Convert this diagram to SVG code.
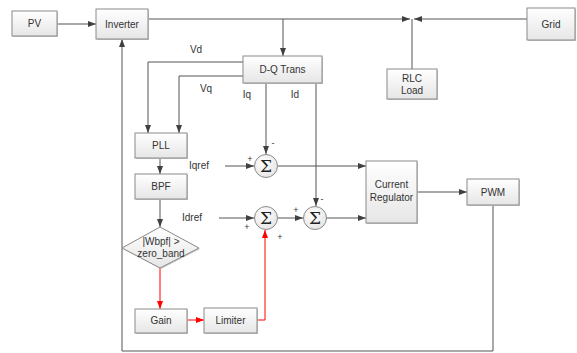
<svg xmlns="http://www.w3.org/2000/svg" width="577" height="353" viewBox="0 0 577 353">
<defs>
<linearGradient id="g" x1="0" y1="0" x2="0" y2="1"><stop offset="0" stop-color="#ffffff"/><stop offset="1" stop-color="#e6e6e6"/></linearGradient>
<radialGradient id="gc" cx="0.4" cy="0.35" r="0.7"><stop offset="0" stop-color="#ffffff"/><stop offset="1" stop-color="#e4e4e4"/></radialGradient>
<marker id="a" markerWidth="8" markerHeight="6" refX="8" refY="3" orient="auto" markerUnits="userSpaceOnUse"><path d="M0,0 L8,3 L0,6 z" fill="#404040"/></marker>
<marker id="r" markerWidth="8" markerHeight="6" refX="8" refY="3" orient="auto" markerUnits="userSpaceOnUse"><path d="M0,0 L8,3 L0,6 z" fill="#ff0000"/></marker>
</defs>
<style>
.box{fill:url(#g);stroke:#8a8a8a;stroke-width:1}
.sh{fill:#c8c8c8}
.t{font-family:"Liberation Sans",Arial,sans-serif;font-size:10px;fill:#333;text-anchor:middle}
.l{font-family:"Liberation Sans",Arial,sans-serif;font-size:10px;fill:#333;text-anchor:middle}
.s{font-family:"Liberation Sans",Arial,sans-serif;font-size:9px;fill:#333;text-anchor:middle}
.sig{font-family:"DejaVu Serif","Liberation Serif",serif;font-size:17px;fill:#222;text-anchor:middle}
.c{fill:none;stroke:#555;stroke-width:1}
.rd{fill:none;stroke:#ff0000;stroke-width:1}
.circ{fill:url(#gc);stroke:#8a8a8a;stroke-width:1}
</style>
<rect width="577" height="353" fill="#ffffff"/>
<g id="connectors">
<path class="c" d="M57,24 H96" marker-end="url(#a)"/>
<path class="c" d="M148,19 H410" marker-end="url(#a)"/>
<path class="c" d="M527,19 H414" marker-end="url(#a)"/>
<path class="c" d="M412,69 V19"/>
<path class="c" d="M283,19 V56" marker-end="url(#a)"/>
<path class="c" d="M243,62 H148 V133" marker-end="url(#a)"/>
<path class="c" d="M243,76 H179 V133" marker-end="url(#a)"/>
<path class="c" d="M266,83 V154" marker-end="url(#a)"/>
<path class="c" d="M316,83 V206" marker-end="url(#a)"/>
<path class="c" d="M160,158 V174" marker-end="url(#a)"/>
<path class="c" d="M160,199 V227" marker-end="url(#a)"/>
<path class="c" d="M225,166 H254" marker-end="url(#a)"/>
<path class="c" d="M278,166 H366" marker-end="url(#a)"/>
<path class="c" d="M219,218 H254" marker-end="url(#a)"/>
<path class="c" d="M278,218 H303" marker-end="url(#a)"/>
<path class="c" d="M327,218 H366" marker-end="url(#a)"/>
<path class="c" d="M417,192 H467" marker-end="url(#a)"/>
<path class="c" d="M493,205 V351 H122 V39" marker-end="url(#a)"/>
<path class="rd" d="M160,268 V309" marker-end="url(#r)"/>
<path class="rd" d="M187,320 H204" marker-end="url(#r)"/>
<path class="rd" d="M257,320 H265 V230" marker-end="url(#r)"/>
</g>
<g id="labels">
<text class="l" x="196" y="53">Vd</text>
<text class="l" x="206" y="92">Vq</text>
<text class="l" x="247" y="98">Iq</text>
<text class="l" x="295" y="98">Id</text>
<text class="l" x="199" y="169">Iqref</text>
<text class="l" x="192" y="221">Idref</text>
<text class="s" x="250" y="162">+</text>
<text class="s" x="273" y="146">-</text>
<text class="s" x="247" y="230">+</text>
<text class="s" x="280" y="240">+</text>
<text class="s" x="296" y="213">+</text>
<text class="s" x="322" y="202">-</text>
</g>
<g id="pv"><rect class="sh" x="13" y="12" width="45" height="25"/><rect class="box" x="12" y="11" width="45" height="25"/><text class="t" x="34.5" y="27">PV</text></g>
<g id="inverter"><rect class="sh" x="97" y="10" width="52" height="30"/><rect class="box" x="96" y="9" width="52" height="30"/><text class="t" x="122" y="27.5">Inverter</text></g>
<g id="grid"><rect class="sh" x="528" y="9" width="48" height="32"/><rect class="box" x="527" y="8" width="48" height="32"/><text class="t" x="551" y="27.5">Grid</text></g>
<g id="dq"><rect class="sh" x="244" y="57" width="79" height="27"/><rect class="box" x="243" y="56" width="79" height="27"/><text class="t" x="282.5" y="73">D-Q Trans</text></g>
<g id="rlc"><rect class="sh" x="388" y="70" width="50" height="30"/><rect class="box" x="387" y="69" width="50" height="30"/><text class="t" x="412" y="82">RLC</text><text class="t" x="412" y="94">Load</text></g>
<g id="pll"><rect class="sh" x="136" y="134" width="52" height="25"/><rect class="box" x="135" y="133" width="52" height="25"/><text class="t" x="161" y="149">PLL</text></g>
<g id="bpf"><rect class="sh" x="136" y="175" width="52" height="25"/><rect class="box" x="135" y="174" width="52" height="25"/><text class="t" x="161" y="190">BPF</text></g>
<g id="decision"><path d="M161,228 L200,249 L161,269 L123,249 z" fill="#c8c8c8"/><path d="M160,227 L199,248 L160,268 L122,248 z" fill="url(#g)" stroke="#8a8a8a"/><text class="t" x="161" y="245">|Wbpf| &gt;</text><text class="t" x="161" y="257">zero_band</text></g>
<g id="gain"><rect class="sh" x="136" y="310" width="52" height="24"/><rect class="box" x="135" y="309" width="52" height="24"/><text class="t" x="161" y="324">Gain</text></g>
<g id="limiter"><rect class="sh" x="205" y="309" width="53" height="25"/><rect class="box" x="204" y="308" width="53" height="25"/><text class="t" x="230.5" y="324">Limiter</text></g>
<g id="sum1"><circle class="circ" cx="266" cy="166" r="11.5"/><text class="sig" x="266" y="172">Σ</text></g>
<g id="sum2"><circle class="circ" cx="266" cy="218" r="11.5"/><text class="sig" x="266" y="224">Σ</text></g>
<g id="sum3"><circle class="circ" cx="315" cy="218" r="11.5"/><text class="sig" x="315" y="224">Σ</text></g>
<g id="regulator"><rect class="sh" x="367" y="162" width="51" height="62"/><rect class="box" x="366" y="161" width="51" height="62"/><text class="t" x="391.5" y="188">Current</text><text class="t" x="391.5" y="201">Regulator</text></g>
<g id="pwm"><rect class="sh" x="468" y="180" width="52" height="26"/><rect class="box" x="467" y="179" width="52" height="26"/><text class="t" x="493" y="195.5">PWM</text></g>
</svg>
